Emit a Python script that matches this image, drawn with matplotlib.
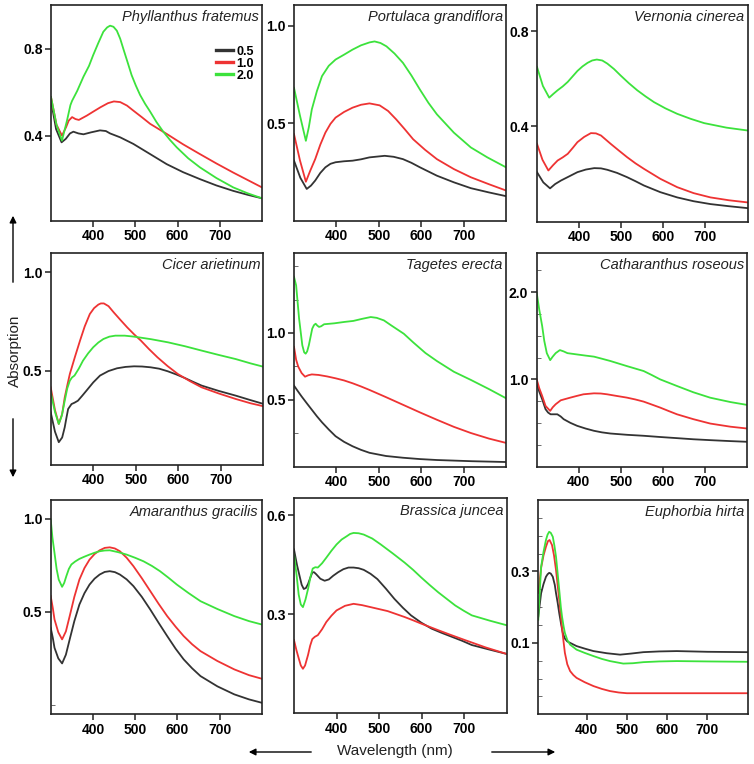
import numpy as np
import matplotlib.pyplot as plt

plt.rcParams['font.family'] = ['Liberation Sans', 'DejaVu Sans']

species = ['Phyllanthus fratemus', 'Portulaca grandiflora', 'Vernonia cinerea',
           'Cicer arietinum', 'Tagetes erecta', 'Catharanthus roseous',
           'Amaranthus gracilis', 'Brassica juncea', 'Euphorbia hirta']
doses = ['0.5', '1.0', '2.0']
colours = ['#333333', '#ee3333', '#3ce23c']

# (wavelength nm, absorption)
phyl_05 = [(300, .56), (312, .43), (325, .369), (335, .385), (345, .41), (353, .418),
           (365, .41), (377, .406), (395, .415), (416, .424), (430, .421), (440, .41),
           (464, .392), (495, .362), (535, .315), (574, .269), (613, .232), (653, .20),
           (692, .171), (732, .146), (766, .128), (800, .112)]
phyl_10 = [(300, .577), (313, .45), (326, .40), (336, .44), (342, .469), (350, .485),
           (358, .476), (366, .472), (385, .492), (400, .51), (417, .53), (435, .549),
           (449, .557), (464, .554), (480, .538), (495, .515), (515, .485), (535, .454),
           (574, .408), (613, .36), (653, .315), (692, .272), (732, .23), (766, .196),
           (800, .162)]
phyl_20 = [(300, .577), (313, .45), (326, .377), (338, .47), (346, .54), (350, .56),
           (362, .605), (377, .671), (390, .72), (400, .77), (412, .825), (424, .877),
           (433, .897), (440, .905), (448, .9), (456, .882), (464, .845), (472, .795),
           (481, .74), (491, .678), (501, .63), (511, .587), (523, .546), (535, .51),
           (550, .462), (566, .418), (582, .38), (598, .346), (625, .296), (653, .254),
           (692, .205), (732, .162), (766, .135), (800, .112)]

port_05 = [(300, .308), (315, .22), (330, .163), (340, .18), (350, .206), (362, .245),
           (374, .274), (386, .292), (398, .30), (418, .305), (438, .308), (458, .315),
           (478, .325), (514, .333), (535, .328), (557, .316), (577, .297), (597, .274),
           (637, .231), (677, .197), (717, .167), (760, .145), (800, .126)]
port_10 = [(300, .444), (314, .31), (328, .20), (338, .255), (350, .316), (362, .39),
           (374, .452), (386, .497), (398, .529), (418, .558), (438, .58), (458, .595),
           (478, .602), (502, .592), (522, .563), (541, .52), (561, .47), (581, .418),
           (609, .364), (637, .316), (677, .265), (717, .223), (760, .187), (800, .155)]
port_20 = [(300, .682), (314, .54), (328, .41), (335, .48), (342, .571), (354, .665),
           (366, .742), (382, .795), (398, .827), (418, .852), (438, .878), (458, .9),
           (478, .915), (490, .92), (504, .912), (518, .895), (537, .858), (557, .81),
           (577, .745), (597, .673), (617, .605), (637, .546), (677, .452), (717, .376),
           (756, .325), (800, .274)]

vern_05 = [(300, .208), (315, .165), (331, .14), (343, .158), (357, .173), (376, .19),
           (396, .208), (416, .219), (436, .225), (452, .224), (467, .218), (490, .205),
           (514, .187), (534, .17), (554, .152), (593, .124), (633, .102), (672, .086),
           (712, .074), (756, .065), (800, .057)]
vern_10 = [(300, .327), (313, .26), (327, .215), (338, .237), (349, .257), (361, .27),
           (373, .285), (385, .31), (396, .334), (412, .356), (428, .372), (440, .371),
           (452, .362), (475, .327), (495, .298), (514, .271), (534, .245), (554, .222),
           (593, .18), (633, .145), (672, .12), (712, .102), (756, .09), (800, .081)]
vern_20 = [(300, .65), (314, .57), (329, .521), (339, .537), (349, .552), (361, .568),
           (373, .587), (385, .611), (396, .633), (408, .652), (420, .667), (431, .677),
           (442, .681), (455, .677), (467, .664), (483, .641), (498, .615), (518, .582),
           (538, .552), (558, .526), (578, .502), (605, .476), (633, .453), (665, .432),
           (697, .414), (750, .395), (800, .383)]

cice_05 = [(300, .288), (310, .19), (319, .136), (327, .16), (333, .212), (337, .26),
           (341, .305), (349, .33), (356, .337), (364, .347), (374, .372), (384, .398),
           (400, .44), (416, .475), (436, .498), (456, .512), (476, .519), (496, .522),
           (515, .521), (535, .517), (555, .51), (575, .497), (595, .481), (615, .463),
           (635, .443), (655, .424), (695, .397), (735, .373), (770, .35), (800, .331)]
cice_10 = [(300, .415), (310, .3), (319, .229), (327, .28), (333, .364), (339, .425),
           (345, .483), (357, .57), (369, .653), (380, .725), (392, .788), (402, .818),
           (412, .836), (418, .842), (425, .842), (436, .828), (448, .797), (464, .758),
           (480, .72), (496, .685), (512, .653), (531, .61), (551, .568), (575, .523),
           (599, .483), (627, .447), (655, .415), (695, .384), (735, .356), (770, .334),
           (800, .319)]
cice_20 = [(300, .39), (310, .29), (319, .229), (326, .27), (333, .347), (339, .41),
           (345, .449), (350, .465), (356, .475), (366, .51), (376, .551), (388, .588),
           (400, .619), (412, .643), (424, .661), (438, .673), (452, .678), (474, .678),
           (496, .673), (536, .66), (576, .644), (616, .624), (655, .602), (695, .58),
           (735, .559), (770, .537), (800, .52)]

tage_05 = [(300, .606), (309, .565), (318, .525), (330, .475), (342, .426), (354, .377),
           (366, .332), (382, .278), (398, .228), (418, .186), (438, .153), (458, .126),
           (478, .104), (517, .08), (557, .067), (597, .057), (637, .05), (720, .041),
           (800, .035)]
tage_10 = [(300, .896), (305, .8), (310, .748), (318, .7), (326, .673), (334, .684),
           (342, .69), (358, .686), (378, .675), (398, .661), (418, .645), (438, .624),
           (458, .6), (478, .574), (517, .52), (557, .463), (597, .406), (637, .351),
           (677, .298), (717, .252), (760, .21), (800, .178)]
tage_20 = [(300, 1.42), (305, 1.356), (312, 1.107), (319.6, .908), (324, .855), (327.5, .845),
           (331, .862), (335, .908), (343, 1.032), (347, 1.058), (351, 1.069), (355, 1.055),
           (359, 1.045), (364, 1.05), (371, 1.065), (395, 1.072), (418, 1.082), (440, 1.09),
           (460, 1.105), (481, 1.119), (495, 1.113), (512, 1.094), (530, 1.055), (559, .994),
           (581, .93), (610, .85), (637, .79), (677, .71), (717, .649), (760, .58),
           (800, .512)]

cath_05 = [(300, .962), (306, .86), (313, .772), (321, .658), (327, .62), (333, .60),
           (349, .60), (357, .575), (364, .544), (380, .502), (396, .468), (416, .437),
           (436, .411), (455, .393), (475, .38), (515, .365), (554, .354), (593, .34),
           (633, .327), (672, .314), (712, .304), (760, .293), (800, .285)]
cath_10 = [(300, 1.0), (306, .9), (313, .81), (321, .696), (332, .639), (338, .68),
           (345, .715), (357, .76), (368, .775), (380, .791), (395, .81), (411, .829),
           (436, .84), (452, .838), (467, .829), (490, .81), (514, .791), (534, .77),
           (554, .745), (573, .712), (593, .677), (613, .638), (633, .60), (672, .544),
           (712, .494), (760, .458), (800, .437)]
cath_20 = [(300, 1.99), (306, 1.8), (313, 1.61), (318, 1.44), (324, 1.30), (332, 1.22),
           (338, 1.26), (345, 1.30), (355, 1.335), (364, 1.32), (373, 1.30), (396, 1.285),
           (416, 1.272), (436, 1.26), (455, 1.236), (475, 1.21), (514, 1.152), (554, 1.095),
           (573, 1.05), (593, 1.0), (633, .924), (672, .852), (712, .79), (760, .74),
           (800, .707)]

amar_05 = [(300, .414), (305, .36), (309, .307), (318, .25), (327, .223), (336, .27),
           (345, .352), (356, .45), (368, .539), (380, .6), (392, .646), (404, .678),
           (416, .70), (428, .714), (440, .718), (452, .713), (464, .70), (480, .674),
           (496, .638), (516, .58), (536, .512), (556, .44), (576, .37), (596, .302),
           (615, .245), (635, .197), (655, .155), (695, .1), (735, .057), (770, .03),
           (800, .012)]
amar_10 = [(300, .584), (305, .52), (309, .459), (318, .39), (327, .352), (336, .395),
           (345, .477), (356, .58), (368, .673), (380, .735), (392, .78), (404, .81),
           (416, .83), (428, .843), (440, .846), (452, .84), (464, .825), (480, .79),
           (496, .745), (516, .68), (536, .611), (556, .542), (576, .477), (596, .42),
           (615, .37), (635, .326), (655, .289), (695, .236), (735, .191), (770, .16),
           (800, .141)]
amar_20 = [(300, .995), (304, .9), (309, .816), (314, .73), (319, .673), (327, .634),
           (332, .655), (337, .691), (343, .73), (349, .754), (358, .77), (368, .784),
           (380, .796), (392, .807), (404, .817), (416, .825), (428, .829), (440, .83),
           (460, .82), (480, .807), (500, .79), (520, .771), (540, .746), (559, .718),
           (579, .683), (599, .646), (627, .6), (655, .557), (695, .515), (735, .477),
           (770, .45), (800, .432)]

bras_05 = [(300, .497), (307, .45), (313, .417), (318, .39), (323, .377), (328, .38),
           (333, .392), (338, .41), (343, .427), (347, .428), (352, .422), (362, .408),
           (372, .402), (382, .406), (392, .417), (404, .428), (416, .437), (428, .442),
           (440, .442), (452, .44), (464, .435), (480, .423), (496, .407), (516, .378),
           (536, .347), (556, .32), (575, .297), (599, .275), (623, .257), (647, .244),
           (671, .232), (695, .22), (718, .207), (760, .193), (800, .18)]
bras_10 = [(300, .222), (306, .19), (311, .167), (316, .145), (321, .135), (326, .145),
           (333, .177), (338, .205), (343, .225), (349, .232), (356, .237), (366, .255),
           (376, .277), (388, .296), (400, .312), (420, .326), (440, .332), (460, .328),
           (480, .322), (500, .316), (520, .31), (540, .301), (560, .292), (580, .282),
           (599, .272), (619, .262), (639, .252), (670, .237), (702, .222), (750, .2),
           (800, .18)]
bras_20 = [(300, .482), (306, .42), (311, .36), (316, .33), (321, .322), (327, .345),
           (333, .377), (339, .415), (344, .439), (350, .443), (356, .442), (366, .455),
           (376, .472), (388, .493), (400, .512), (412, .527), (424, .537), (432, .544),
           (440, .547), (452, .546), (464, .542), (484, .53), (504, .512), (532, .485),
           (560, .457), (580, .435), (599, .412), (619, .389), (639, .367), (659, .347),
           (679, .327), (699, .311), (718, .297), (760, .281), (800, .267)]

euph_05 = [(280, .174), (287, .239), (293, .265), (299, .285), (303, .292), (307, .296),
           (311, .294), (316, .285), (321, .262), (324, .239), (328, .213), (332, .183),
           (337, .15), (341, .127), (346, .112), (352, .104), (359, .10), (375, .091),
           (395, .084), (417, .077), (450, .071), (483, .067), (510, .07), (541, .074),
           (580, .076), (624, .077), (700, .075), (800, .074)]
euph_10 = [(280, .24), (287, .31), (293, .345), (299, .369), (304, .385), (308, .388),
           (314, .374), (319, .345), (324, .304), (328, .262), (332, .22), (337, .165),
           (341, .12), (346, .072), (352, .04), (359, .021), (367, .01), (375, .002),
           (395, -.01), (417, -.021), (438, -.029), (458, -.035), (480, -.039), (500, -.041),
           (600, -.041), (800, -.041)]
euph_20 = [(280, .165), (287, .313), (293, .355), (299, .388), (303, .403), (307, .411),
           (311, .408), (316, .397), (320, .372), (324, .341), (328, .295), (332, .248),
           (336, .2), (339, .173), (343, .145), (346, .128), (352, .108), (359, .095),
           (375, .081), (395, .072), (417, .063), (438, .055), (458, .049), (491, .042),
           (515, .043), (541, .046), (580, .048), (624, .049), (700, .048), (800, .047)]

curves = [(phyl_05, phyl_10, phyl_20), (port_05, port_10, port_20), (vern_05, vern_10, vern_20),
          (cice_05, cice_10, cice_20), (tage_05, tage_10, tage_20), (cath_05, cath_10, cath_20),
          (amar_05, amar_10, amar_20), (bras_05, bras_10, bras_20), (euph_05, euph_10, euph_20)]

yticks = [[0.4, 0.8], [0.5, 1.0], [0.4, 0.8], [0.5, 1.0], [0.5, 1.0], [1.0, 2.0],
          [0.5, 1.0], [0.3, 0.6], [0.1, 0.3]]
yminor = [[], [], [], [], [0.25, 0.75, 1.25, 1.5], [0.25, 0.5, 0.75, 1.25, 1.5, 1.75, 2.25],
          [0.0], [], [-0.05, 0.0, 0.05, 0.15, 0.2, 0.25, 0.35, 0.4, 0.45]]
ylims = [(0.01, 1.0), (0.0, 1.107), (0.0, 0.91), (0.02, 1.1), (0.0, 1.6), (0.0, 2.45),
         (-0.05, 1.1), (0.0, 0.652), (-0.1, 0.5)]

W, H = 754, 764
# axes boxes in pixels: left, top, right, bottom
boxes = [(51, 5, 262, 220.5), (294, 5, 506, 220.7), (537, 5, 747.5, 221.7),
         (50.7, 252.7, 263.3, 465), (294, 252.7, 506, 466.7), (536.7, 252.7, 747.3, 466.7),
         (50.7, 500, 261.7, 714.3), (294, 498.3, 506.7, 713.3), (538.3, 500, 747.7, 714.3)]

fig = plt.figure(figsize=(W / 100, H / 100), dpi=100)

for i, (l, t, r, b) in enumerate(boxes):
    ax = fig.add_axes([l / W, 1 - b / H, (r - l) / W, (b - t) / H])
    for series, c, d in zip(curves[i], colours, doses):
        wl, a = zip(*series)
        ax.plot(wl, a, color=c, lw=1.3, label=d, solid_joinstyle='round')
    ax.set_xlim(280 if i == 8 else 300, 800)
    ax.set_ylim(*ylims[i])
    ax.set_xticks([400, 500, 600, 700])
    ax.set_xticklabels(['400', '500', '600', '700'], fontweight='bold')
    ax.set_yticks(yticks[i])
    ax.set_yticklabels([f'{v:.1f}' for v in yticks[i]], fontweight='bold')
    ax.set_yticks(yminor[i], minor=True)
    ax.tick_params(which='major', direction='out', length=4, width=1.1,
                   labelsize=10, pad=2, color='#222222')
    ax.tick_params(which='minor', direction='in', length=3, width=0.6, color='#555555')
    for s in ax.spines.values():
        s.set_linewidth(1.2)
        s.set_color('#222222')
    ax.text(0.985, 0.975, species[i], transform=ax.transAxes, ha='right', va='top',
            fontsize=10.5, style='italic', color='#222222')
    if i == 0:
        leg = ax.legend(loc='upper right', bbox_to_anchor=(0.99, 0.84), frameon=False,
                        prop={'size': 9, 'weight': 'bold'}, handlelength=1.4,
                        handletextpad=0.25, labelspacing=0.0, borderpad=0)
        for h in leg.get_lines():
            h.set_linewidth(2.4)

fig.text(15 / W, 1 - 351 / H, 'Absorption', rotation=90, ha='center', va='center',
         fontsize=11, color='#222222')
fig.text(395 / W, 1 - 751 / H, 'Wavelength (nm)', ha='center', va='center',
         fontsize=11, color='#222222')

arrow = dict(arrowstyle='-|>', color='black', lw=1.0, mutation_scale=10)
fig.add_artist(plt.Annotation('', xy=(13 / W, 1 - 213 / H), xytext=(13 / W, 1 - 285 / H),
                              xycoords='figure fraction', arrowprops=arrow))
fig.add_artist(plt.Annotation('', xy=(13 / W, 1 - 480 / H), xytext=(13 / W, 1 - 416 / H),
                              xycoords='figure fraction', arrowprops=arrow))
fig.add_artist(plt.Annotation('', xy=(246 / W, 1 - 752 / H), xytext=(314 / W, 1 - 752 / H),
                              xycoords='figure fraction', arrowprops=arrow))
fig.add_artist(plt.Annotation('', xy=(558 / W, 1 - 752 / H), xytext=(489 / W, 1 - 752 / H),
                              xycoords='figure fraction', arrowprops=arrow))

fig.savefig('out.png', dpi=100)
